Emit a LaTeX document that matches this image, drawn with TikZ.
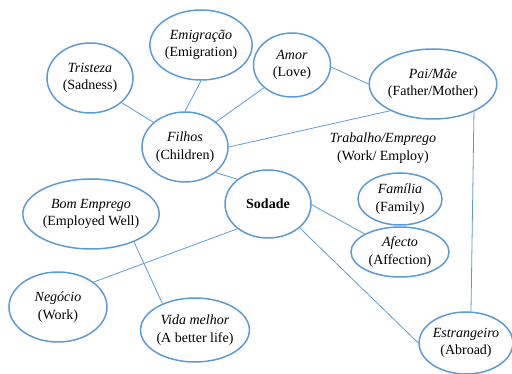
\documentclass[tikz,border=0pt]{standalone}
\usepackage{fontspec}
\setmainfont{Liberation Serif}
\usetikzlibrary{shapes.geometric}
\definecolor{obl}{HTML}{5B9BD5}
\tikzset{
  bub/.style={ellipse, draw=obl, line width=1.5pt, inner sep=0pt, align=center,
    font=\fontsize{14}{17.5}\selectfont},
  lnk/.style={draw=obl, line width=0.8pt},
}
\begin{document}
\begin{tikzpicture}[x=1pt,y=-1pt]
\useasboundingbox (0,0) rectangle (512,374);
\node[bub, minimum width=86pt, minimum height=70pt] (tri) at (90,78) {\textit{Tristeza}\\(Sadness)};
\node[bub, minimum width=86pt, minimum height=70pt] (emi) at (201,45) {\textit{Emigração}\\(Emigration)};
\node[bub, minimum width=86pt, minimum height=70pt] (fil) at (185,147) {\textit{Filhos}\\(Children)};
\node[bub, minimum width=77pt, minimum height=64pt] (amo) at (292,65) {\textit{Amor}\\(Love)};
\node[bub, minimum width=110pt, minimum height=70pt] (pai) at (433,84) {\textit{Pai/Mãe}\\(Father/Mother)};
\node[align=center, font=\fontsize{14}{17.5}\selectfont] (tra) at (383,148) {\textit{Trabalho/Emprego}\\(Work/ Employ)};
\node[bub, minimum width=84pt, minimum height=52pt] (fam) at (400,199) {\textit{Família}\\(Family)};
\node[bub, minimum width=98pt, minimum height=50pt] (afe) at (400,252) {\textit{Afecto}\\(Affection)};
\node[bub, minimum width=88pt, minimum height=62pt] (est) at (466,343) {\textit{Estrangeiro}\\(Abroad)};
\node[bub, minimum width=86pt, minimum height=68pt] (sod) at (268,204) {\textbf{Sodade}};
\node[bub, minimum width=110pt, minimum height=70pt] (bom) at (91,214) {\textit{Bom Emprego}\\(Employed Well)};
\node[bub, minimum width=98pt, minimum height=70pt] (neg) at (58,307) {\textit{Negócio}\\(Work)};
\node[bub, minimum width=98pt, minimum height=64pt] (vid) at (195,330) {\textit{Vida melhor}\\(A better life)};

\draw[lnk] (tri.-38) -- (fil.142);
\draw[lnk] (emi.south) -- (fil.north);
\draw[lnk] (amo.219) -- (fil.39);
\draw[lnk] (amo.-3) -- (pai.180);
\draw[lnk] (fil.0) -- (pai.212);
\draw[lnk] (fil.-40) -- (sod.141);
\draw[lnk] (sod.-1) -- (afe.153);
\draw[lnk] (sod.-37) -- (est.180);
\draw[lnk] (pai.-34) -- (est.81);
\draw[lnk] (bom.-33) -- (vid.141);
\draw[lnk] (neg.35) -- (sod.219);
\end{tikzpicture}
\end{document}
